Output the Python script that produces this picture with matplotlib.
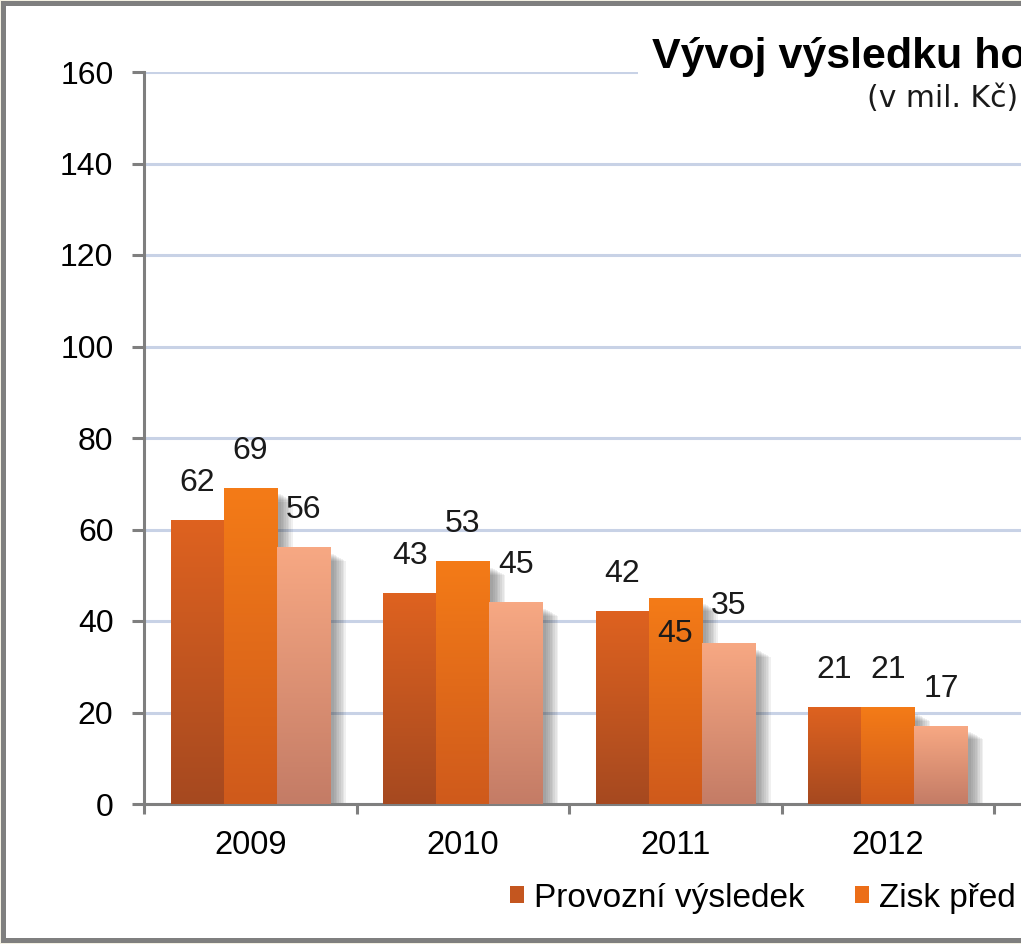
import numpy as np
import matplotlib
matplotlib.use("Agg")
import matplotlib.pyplot as plt
from matplotlib.patches import Rectangle

# data
years = ["2009", "2010", "2011", "2012"]
series_names = ["Provozní výsledek", "Zisk před zdaněním", "Zisk po zdanění"]
provozni = [62, 46, 42, 21]
zisk_pred = [69, 53, 45, 21]
zisk_po = [56, 44, 35, 17]
# data labels as printed on the chart
labels_provozni = ["62", "43", "42", "21"]
labels_pred = ["69", "53", "45", "21"]
labels_po = ["56", "45", "35", "17"]
yticks = [0, 20, 40, 60, 80, 100, 120, 140, 160]

W, H = 1021, 944
plt.rcParams['font.family'] = ['Liberation Sans', 'DejaVu Sans']

fig = plt.figure(figsize=(W / 100, H / 100), dpi=100, facecolor="#f3f0e2")

# white panel with grey frame (right edge runs off the picture)
fig.patches.append(Rectangle((3 / W, 1 - 940 / H), 1.2, 937 / H, transform=fig.transFigure,
                             facecolor="white", edgecolor="#7f7f7f", linewidth=3.6, zorder=-5))

n_cat = 5  # axis continues past the cut
ax = fig.add_axes([144 / W, 140 / H, n_cat * 212.5 / W, 732 / H])
ax.set_facecolor("none")

px_x = 1 / 212.5
px_y = 160 / 732

colors_top = ["#de621f", "#f47b17", "#f7a883"]
colors_bot = ["#a64920", "#cf5a1c", "#c47c66"]
series = [provozni, zisk_pred, zisk_po]
labels = [labels_provozni, labels_pred, labels_po]
bw = 0.25
x = np.arange(len(years))

for i, (vals, ct, cb) in enumerate(zip(series, colors_top, colors_bot)):
    bars = ax.bar(x + (i - 1) * bw, vals, bw, color=ct, linewidth=0, zorder=2)
    c0 = np.array(matplotlib.colors.to_rgb(ct))
    c1 = np.array(matplotlib.colors.to_rgb(cb))
    t = np.linspace(0, 1, 64)[:, None]
    grad = (c0 * (1 - t) + c1 * t)[:, None, :]
    for b in bars:
        x0, w, h = b.get_x(), b.get_width(), b.get_height()
        ax.imshow(grad, extent=[x0, x0 + w, 0, h], aspect="auto", zorder=3,
                  interpolation="bilinear")
        # soft shadow
        for s in np.linspace(0, 12, 8):
            ax.add_patch(Rectangle((x0 + (4 + s) * px_x, 0), w, h - (6 + s * 0.6) * px_y,
                                   facecolor="#383838", alpha=0.07, linewidth=0, zorder=1.5))
    for b, lab in zip(bars, labels[i]):
        off = -26 if (i == 1 and lab == "45") else 27
        ax.annotate(lab, (b.get_x() + b.get_width() / 2, b.get_height()),
                    xytext=(0, off), textcoords="offset points",
                    ha="center", va="center", fontsize=23, color="#1a1a1a", zorder=5)

ax.set_xlim(-0.5, n_cat - 0.5)
ax.set_ylim(0, 160)

ax.set_yticks(yticks)
ax.yaxis.grid(True, color="#c8d2e6", linewidth=2.2, zorder=0)
ax.set_axisbelow(True)
ax.set_xticks(x)
ax.set_xticklabels(years)
ax.set_xticks(np.arange(-0.5, n_cat), minor=True)
ax.tick_params(axis="x", which="major", length=0, pad=19, labelsize=23.5)
ax.tick_params(axis="x", which="minor", length=7, width=2.2, color="#7f7f7f")
ax.tick_params(axis="y", length=9, width=2.2, color="#7f7f7f", pad=13, labelsize=23)
for sp in ["top", "right"]:
    ax.spines[sp].set_visible(False)
for sp in ["left", "bottom"]:
    ax.spines[sp].set_color("#7f7f7f")
    ax.spines[sp].set_linewidth(2.2)

# title box covers the top gridline
fig.patches.append(Rectangle((638 / W, 1 - 122 / H), 1.0, 85 / H, transform=fig.transFigure,
                             facecolor="white", edgecolor="none", zorder=1))
fig.text(652 / W, 1 - 68 / H, "Vývoj výsledku hospodaření", family="Liberation Sans",
         fontweight="bold", fontsize=31, ha="left", va="baseline", color="black", zorder=3)
fig.text(1018 / W, 1 - 107 / H, "(v mil. Kč)", family="DejaVu Sans",
         fontsize=21.5, ha="right", va="baseline", color="#1a1a1a", zorder=3)

handles = [Rectangle((0, 0), 1, 1, facecolor=c, edgecolor="none") for c in ["#c4561f", "#ec6e18", "#ec9a7a"]]
leg = fig.legend(handles, series_names, loc="center left", ncol=3, frameon=False,
                 bbox_to_anchor=(510 / W, 1 - 898 / H), fontsize=24,
                 handlelength=0.42, handleheight=0.42, handletextpad=0.3,
                 columnspacing=1.5, borderpad=0, borderaxespad=0)

fig.savefig("out.png", dpi=100, facecolor=fig.get_facecolor())
